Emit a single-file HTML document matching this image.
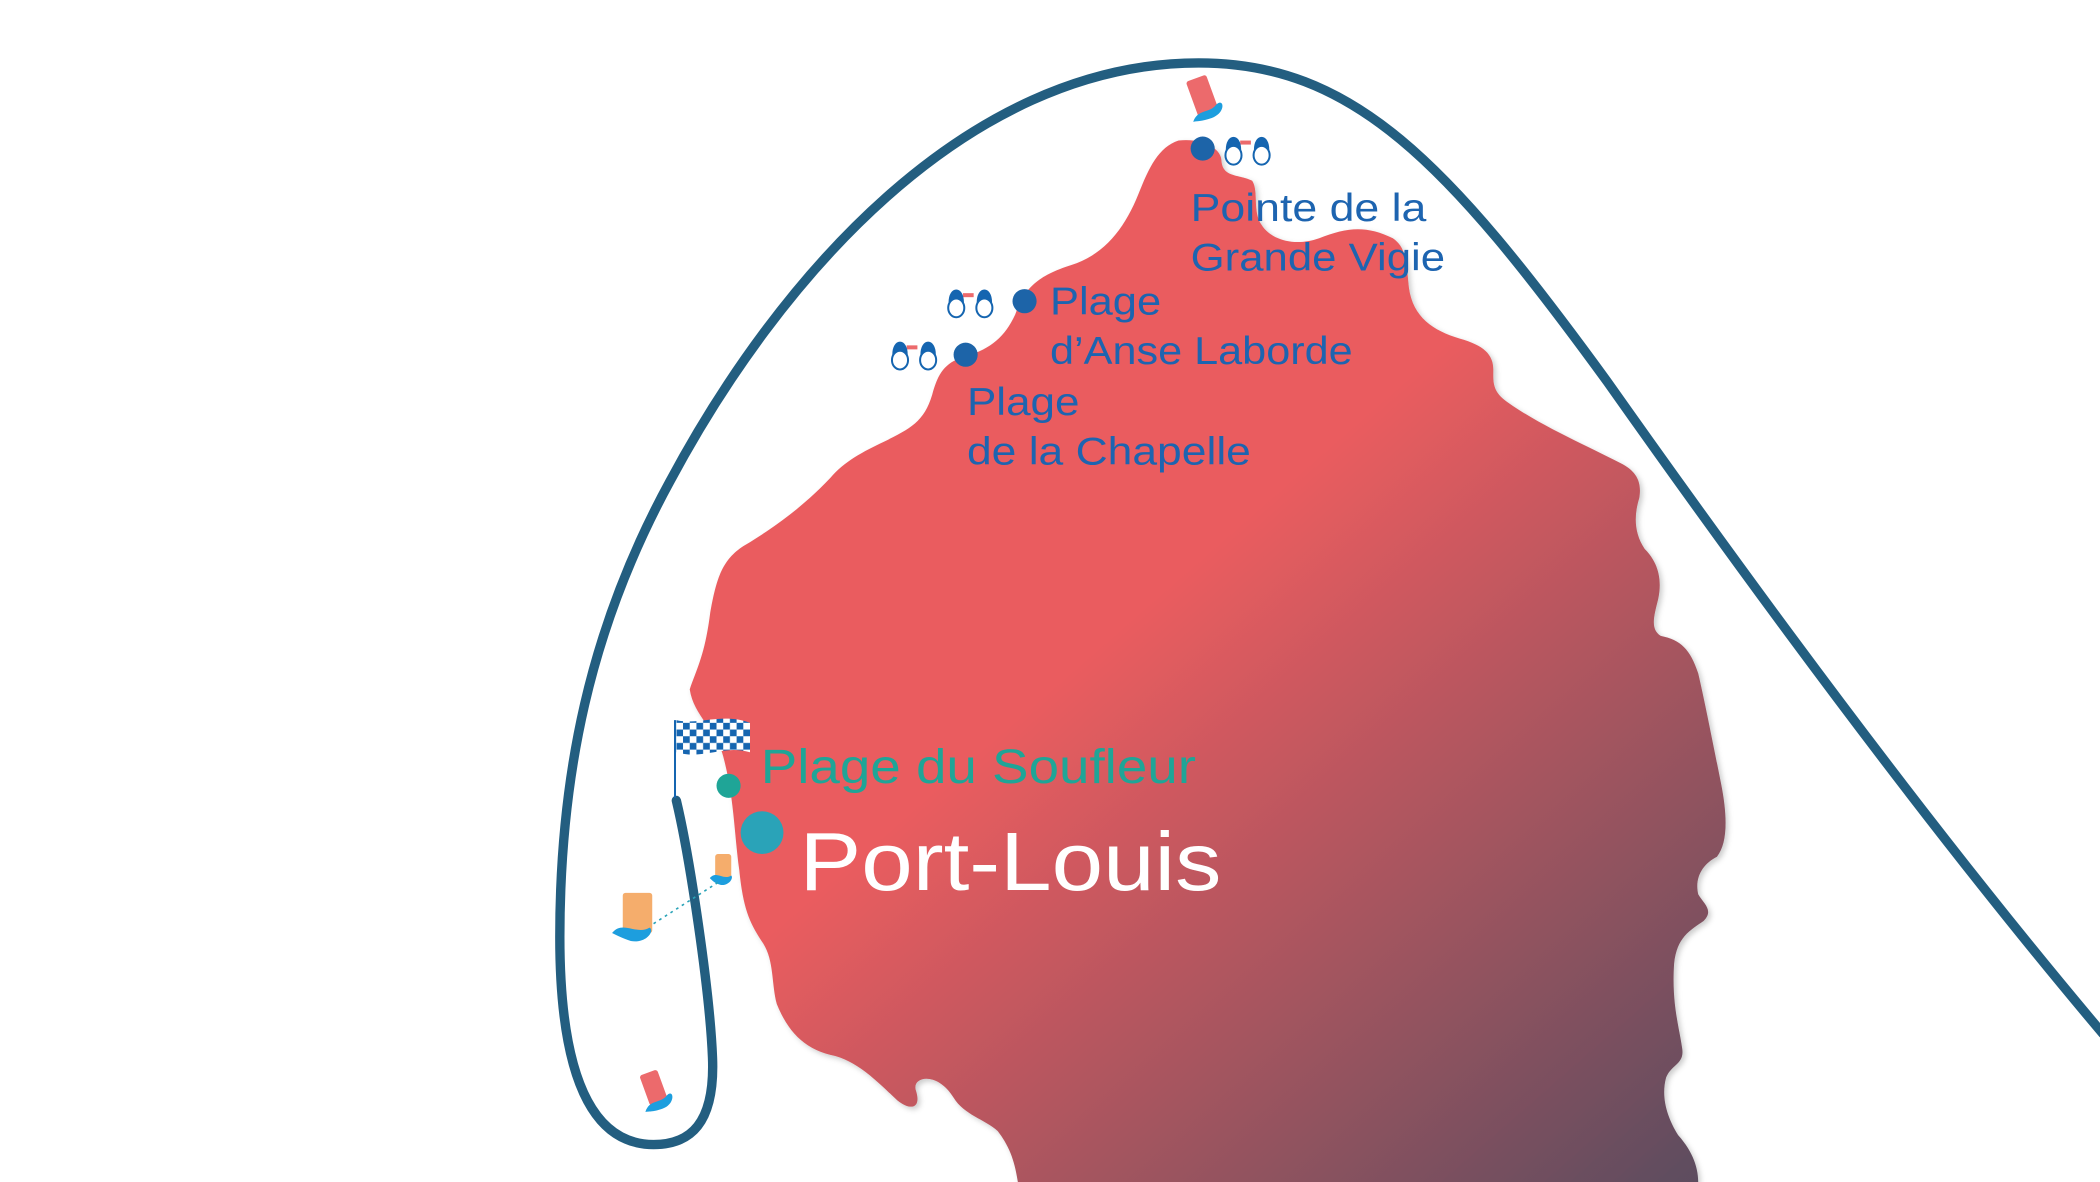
<!DOCTYPE html>
<html><head><meta charset="utf-8"><style>
html,body{margin:0;padding:0;background:#fff;width:2100px;height:1182px;overflow:hidden}
svg{display:block}
text{font-family:"Liberation Sans",sans-serif}
</style></head><body>
<svg width="2100" height="1182" viewBox="0 0 1568 883" preserveAspectRatio="none" xmlns="http://www.w3.org/2000/svg">
<defs>
<linearGradient id="g" gradientUnits="userSpaceOnUse" x1="880" y1="430" x2="1290" y2="900">
<stop offset="0" stop-color="#ea5c5e"/>
<stop offset="1" stop-color="#564c5f"/>
</linearGradient>
<filter id="sh" x="-5%" y="-5%" width="110%" height="110%"><feDropShadow dx="2" dy="2" stdDeviation="2" flood-color="#000" flood-opacity="0.2"/></filter>
<pattern id="chk" width="10" height="10" patternUnits="userSpaceOnUse"><rect width="10" height="10" fill="#fff"/><rect width="5" height="5" fill="#1565b0"/><rect x="5" y="5" width="5" height="5" fill="#1565b0"/></pattern>
</defs>
<path filter="url(#sh)" fill="url(#g)" d="M880,105 C865,110 858,125 850,145 C840,170 825,190 800,198 C775,206 765,215 758,235 C750,252 740,260 722,266 C705,270 700,280 696,295 C690,315 680,320 660,330 C645,337 630,345 620,357 C600,378 580,393 555,408 C540,418 535,430 530,460 C526,490 520,500 515,515 C518,535 535,545 540,565 C548,595 548,620 552,650 C555,680 560,690 570,705 C578,718 576,735 580,750 C588,770 600,783 620,788 C640,792 655,808 670,822 C680,830 688,828 684,815 C680,804 700,800 712,820 C720,833 735,836 745,845 C755,858 758,870 760,883 L1268,883 C1268,870 1262,858 1253,848 C1245,835 1240,820 1244,805 C1248,795 1258,795 1256,783 C1254,768 1248,750 1250,720 C1252,700 1262,695 1272,688 C1280,680 1272,675 1268,668 C1265,655 1272,645 1282,640 C1290,630 1290,610 1285,585 C1278,550 1272,520 1268,503 C1262,485 1255,478 1240,475 C1232,470 1235,460 1238,448 C1242,430 1236,418 1228,410 C1220,398 1220,385 1224,372 C1226,360 1222,352 1210,346 C1185,333 1150,318 1125,300 C1114,292 1115,285 1115,276 C1115,265 1108,258 1090,253 C1070,247 1055,237 1052,215 C1050,195 1050,185 1040,178 C1020,168 1005,170 985,178 C965,185 948,178 942,168 C935,158 940,143 935,135 C925,130 913,133 912,120 C912,112 900,103 880,105 Z"/>
<path fill="none" stroke="#235e80" stroke-width="7" stroke-linecap="round" d="M505,598 C515,640 530,740 532,790 C534,840 515,855 488,855 C450,855 418,820 418,700 C418,580 440,470 500,360 C580,210 720,47 895,47 C1010,47 1080,120 1200,285 C1320,455 1450,630 1570,772"/>
<!-- boats -->
<g transform="translate(900,75) rotate(-20)"><rect x="-9" y="-18" width="16" height="28" rx="2" fill="#ec6a6c"/><path d="M-14,12 C-8,4 0,10 6,6 C14,2 12,14 0,14 C-8,14 -12,12 -14,12Z" fill="#1d9ede"/></g>
<g transform="translate(490,815) rotate(-20)"><rect x="-8" y="-15" width="14" height="24" rx="2" fill="#ec6a6c"/><path d="M-13,12 C-7,4 0,10 6,6 C13,2 11,14 0,14 C-8,14 -11,12 -13,12Z" fill="#1d9ede"/></g>
<g transform="translate(475,685)"><rect x="-10" y="-18" width="22" height="30" rx="2" fill="#f5ad6c"/><path d="M-18,12 C-10,2 0,14 10,8 C14,10 8,20 -4,18 C-10,16 -14,14 -18,12Z" fill="#1d9ede"/></g>
<g transform="translate(540,650)"><rect x="-6" y="-12" width="12" height="18" rx="2" fill="#f5ad6c"/><path d="M-10,6 C-5,0 0,8 6,4 C8,6 4,12 -2,11 C-6,10 -8,8 -10,6Z" fill="#1d9ede"/></g>
<path d="M488,690 L538,658" stroke="#2aa3b8" stroke-width="1.2" stroke-dasharray="2,3"/>
<!-- flag -->
<line x1="504" y1="538" x2="504" y2="596" stroke="#1565b0" stroke-width="1.5"/>
<path d="M505,538 C520,542 540,532 560,540 L560,562 C540,556 525,568 505,562 Z" fill="url(#chk)"/>
<!-- dots -->
<circle cx="898" cy="111" r="9" fill="#1d64a8"/>
<circle cx="765" cy="225" r="9" fill="#1d64a8"/>
<circle cx="721" cy="265" r="9" fill="#1d64a8"/>
<circle cx="544" cy="587" r="9" fill="#1fa597"/>
<circle cx="569" cy="622" r="16" fill="#2aa3b8"/>
<!-- binoculars -->
<g id="bn" fill="#fff" stroke="#1565b0" stroke-width="1.5">
<rect x="926" y="105" width="8" height="3" fill="#ec6a6c" stroke="none"/>
<path d="M916,112 C916,100 926,100 926,112Z" fill="#1565b0"/><ellipse cx="921" cy="116" rx="6" ry="7"/>
<path d="M937,112 C937,100 947,100 947,112Z" fill="#1565b0"/><ellipse cx="942" cy="116" rx="6" ry="7"/>
</g>
<use href="#bn" transform="translate(-207,114)"/>
<use href="#bn" transform="translate(-249,153)"/>
<!-- labels -->
<g fill="#1d64b0" font-size="29">
<text x="889" y="165" textLength="176" lengthAdjust="spacingAndGlyphs">Pointe de la</text>
<text x="889" y="202" textLength="190" lengthAdjust="spacingAndGlyphs">Grande Vigie</text>
<text x="784" y="235" textLength="83" lengthAdjust="spacingAndGlyphs">Plage</text>
<text x="784" y="272" textLength="226" lengthAdjust="spacingAndGlyphs">d’Anse Laborde</text>
<text x="722" y="310" textLength="84" lengthAdjust="spacingAndGlyphs">Plage</text>
<text x="722" y="347" textLength="212" lengthAdjust="spacingAndGlyphs">de la Chapelle</text>
</g>
<text x="568" y="585" font-size="36" fill="#1fa597" textLength="325" lengthAdjust="spacingAndGlyphs">Plage du Soufleur</text>
<text x="597" y="665" font-size="62" fill="#fff" textLength="315" lengthAdjust="spacingAndGlyphs">Port-Louis</text>
</svg>
</body></html>
